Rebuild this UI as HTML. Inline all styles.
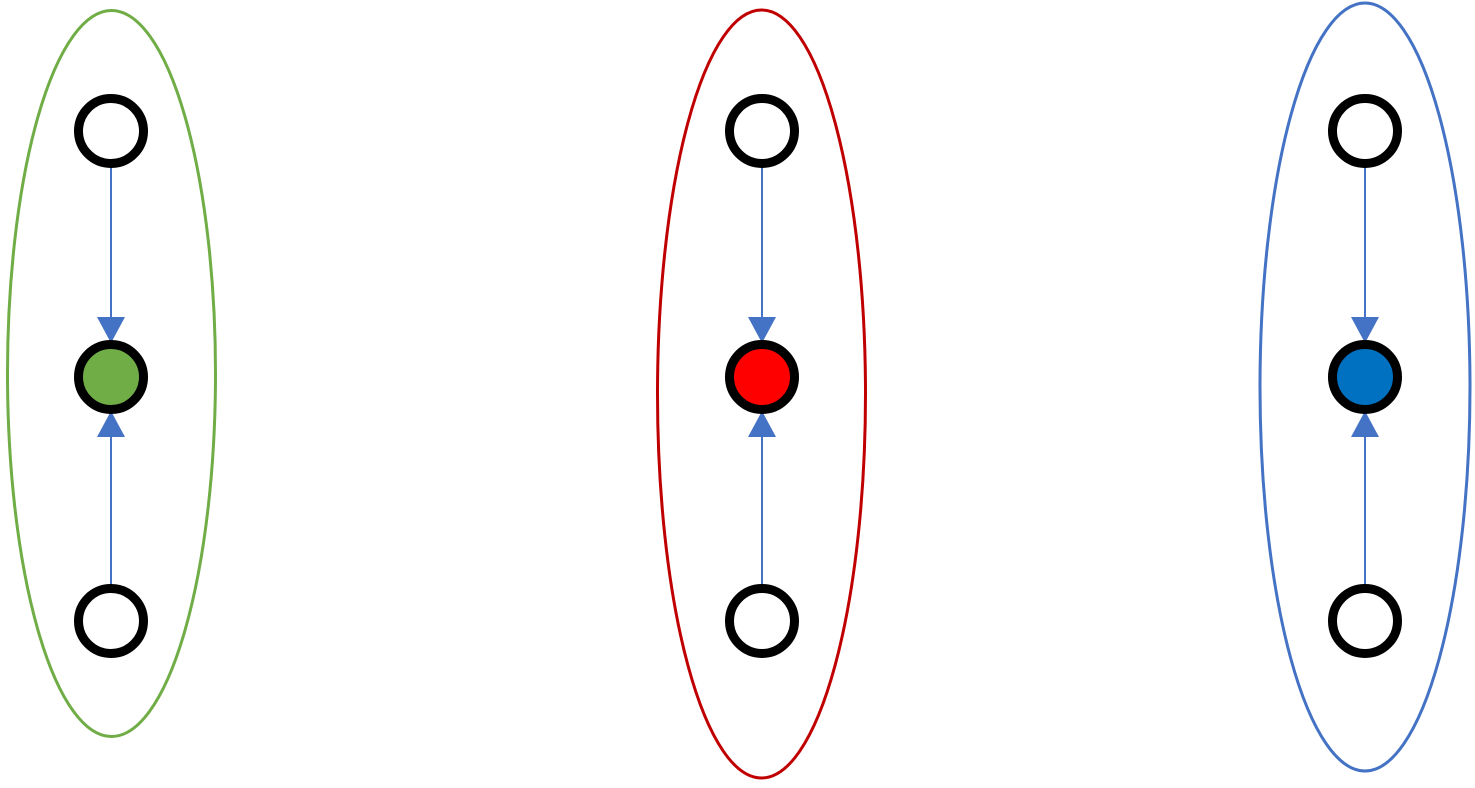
<!DOCTYPE html>
<html><head><style>html,body{margin:0;padding:0;background:#fff}</style></head><body>
<svg width="1475" height="783" xmlns="http://www.w3.org/2000/svg">
<ellipse cx="111.5" cy="373.5" rx="104" ry="363" fill="none" stroke="#70ad47" stroke-width="3"/>
<ellipse cx="761.5" cy="394" rx="104" ry="384" fill="none" stroke="#c00000" stroke-width="3"/>
<ellipse cx="1365" cy="387" rx="105" ry="384" fill="none" stroke="#4472c4" stroke-width="3"/>
<g id="g1" transform="translate(0,0)">
<line x1="111" y1="167" x2="111" y2="320" stroke="#4472c4" stroke-width="2"/>
<polygon points="97,317 125,317 111,343" fill="#4472c4"/>
<line x1="111" y1="585" x2="111" y2="435" stroke="#4472c4" stroke-width="2"/>
<polygon points="97,437 125,437 111,411" fill="#4472c4"/>
<circle cx="111" cy="131" r="32.5" fill="#fff" stroke="#000" stroke-width="9"/>
<circle cx="111" cy="621" r="32.5" fill="#fff" stroke="#000" stroke-width="9"/>
</g>
<circle cx="111" cy="377" r="32.5" fill="#70ad47" stroke="#000" stroke-width="9"/>
<use href="#g1" transform="translate(651,0)"/>
<circle cx="762" cy="377" r="32.5" fill="#ff0000" stroke="#000" stroke-width="9"/>
<use href="#g1" transform="translate(1254,0)"/>
<circle cx="1365" cy="377" r="32.5" fill="#0070c0" stroke="#000" stroke-width="9"/>
</svg>
</body></html>
